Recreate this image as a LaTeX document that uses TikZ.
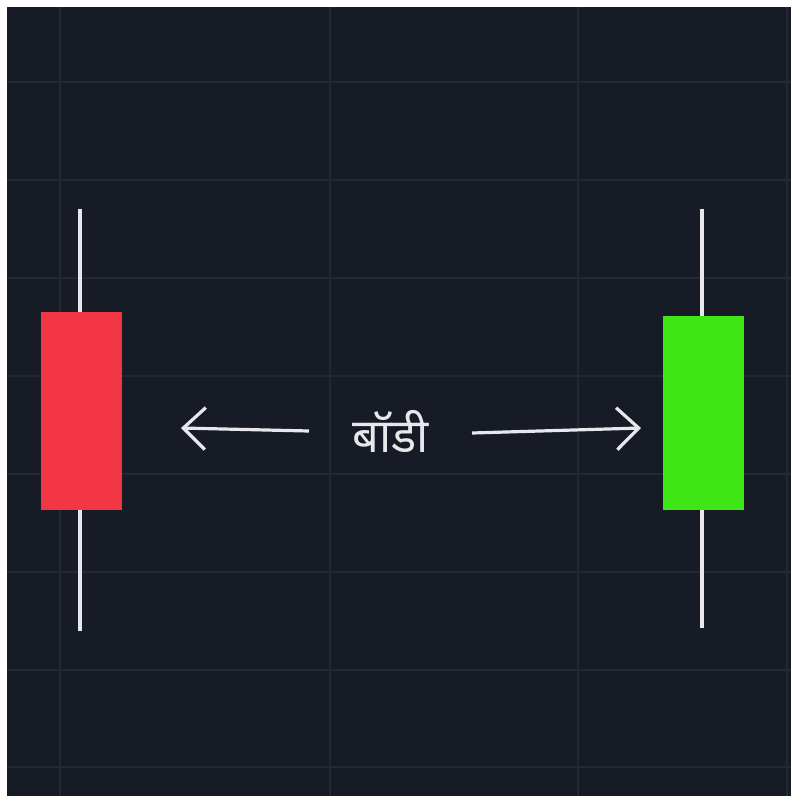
\documentclass[tikz,border=0pt]{standalone}
\usepackage{fontspec}
\newfontfamily\deva[Script=Devanagari]{Noto Sans}
\usetikzlibrary{arrows.meta}
\definecolor{bgdark}{RGB}{23,27,38}
\definecolor{gridc}{RGB}{35,40,51}
\definecolor{candred}{RGB}{242,54,69}
\definecolor{candgreen}{RGB}{62,230,22}
\definecolor{wickc}{RGB}{232,232,236}
\definecolor{txtc}{RGB}{232,232,236}
\tikzset{
  gridline/.style={draw=gridc, line width=1.3pt},
  wick/.style={draw=wickc, line width=3.4pt},
  candbody/.style={draw=none, minimum width=81pt, inner sep=0pt},
  pointer/.style={draw=txtc, line width=3.2pt, -{Straight Barb[length=22pt,width=42pt,line width=3.2pt]}},
  label/.style={text=txtc, font=\deva\fontsize{47}{52}\selectfont, inner sep=0pt}
}
\begin{document}
\begin{tikzpicture}[x=1pt,y=-1pt]
\useasboundingbox (0,0) rectangle (793,796);
\fill[white] (0,0) rectangle (793,796);
\fill[bgdark] (7,7) rectangle (791,796);
% grid
\foreach \y in {82,180,278,376,474,572,670,767}
  \draw[gridline] (7,\y) -- (791,\y);
\foreach \x in {60,330,578,787}
  \draw[gridline] (\x,7) -- (\x,796);
% red candle
\coordinate (rtop) at (80,209);
\coordinate (rbot) at (80,631);
\draw[wick] (rtop) -- (rbot);
\node[candbody, fill=candred, minimum height=198pt] (red) at (81,411) {};
% green candle
\coordinate (gtop) at (702,209);
\coordinate (gbot) at (702,628);
\draw[wick] (gtop) -- (gbot);
\node[candbody, fill=candgreen, minimum height=194pt] (green) at (703.5,413) {};
% label and arrows
\node[label] (body) at (391,431) {बॉडी};
\coordinate (lstart) at (309,431);
\coordinate (ltip) at (181,428);
\coordinate (rstart) at (472,433);
\coordinate (rtip) at (641,428);
\draw[pointer] (lstart) -- (ltip);
\draw[pointer] (rstart) -- (rtip);
\end{tikzpicture}
\end{document}
